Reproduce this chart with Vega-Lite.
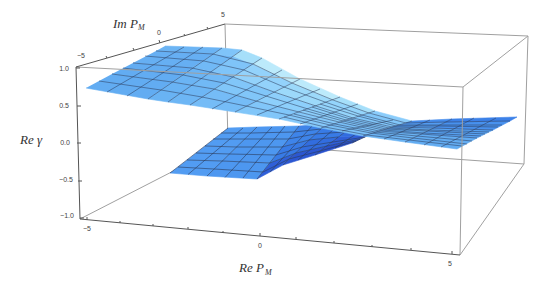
{"$schema":"https://vega.github.io/schema/vega-lite/v6.json","width":545,"height":283,"padding":0,"autosize":{"type":"none"},"background":"white","config":{"view":{"stroke":null}},
"datasets":{
"lowerV":[
{"k":"0_0","x":170,"y":173,"c":0.42},{"k":"1_0","x":207,"y":176,"c":0.4},{"k":"2_0","x":257,"y":179,"c":0.2},{"k":"3_0","x":283,"y":165,"c":0.15},{"k":"4_0","x":315,"y":155,"c":0.1},{"k":"5_0","x":352,"y":143,"c":0.1},
{"k":"0_1","x":187,"y":160,"c":0.42},{"k":"1_1","x":222,"y":161,"c":0.4},{"k":"2_1","x":270,"y":163,"c":0.3},{"k":"3_1","x":296,"y":153,"c":0.25},{"k":"4_1","x":327,"y":146,"c":0.2},{"k":"5_1","x":360,"y":139,"c":0.2},
{"k":"0_2","x":205,"y":146,"c":0.42},{"k":"1_2","x":237,"y":147,"c":0.4},{"k":"2_2","x":282,"y":147,"c":0.33},{"k":"3_2","x":309,"y":140,"c":0.3},{"k":"4_2","x":338,"y":137,"c":0.25},{"k":"5_2","x":369,"y":135,"c":0.25},
{"k":"0_3","x":228,"y":128,"c":0.42},{"k":"1_3","x":257,"y":127,"c":0.4},{"k":"2_3","x":299,"y":126,"c":0.33},{"k":"3_3","x":326,"y":124,"c":0.3},{"k":"4_3","x":354,"y":125,"c":0.25},{"k":"5_3","x":380,"y":130,"c":0.25}],
"upperV":[
{"k":"0_0","x":86,"y":88,"c":0.5},{"k":"1_0","x":148,"y":99,"c":0.54},{"k":"2_0","x":168,"y":102,"c":0.56},{"k":"3_0","x":190,"y":105,"c":0.6},{"k":"4_0","x":235,"y":112,"c":0.66},{"k":"5_0","x":279,"y":119,"c":0.68},{"k":"6_0","x":321,"y":128,"c":0.62},{"k":"7_0","x":363,"y":136,"c":0.55},{"k":"8_0","x":405,"y":142,"c":0.5},{"k":"9_0","x":457,"y":149,"c":0.5},
{"k":"0_1","x":112,"y":74,"c":0.5},{"k":"1_1","x":172,"y":82,"c":0.55},{"k":"2_1","x":192,"y":85,"c":0.58},{"k":"3_1","x":214,"y":89,"c":0.66},{"k":"4_1","x":256,"y":101,"c":0.72},{"k":"5_1","x":299,"y":112,"c":0.72},{"k":"6_1","x":339,"y":122,"c":0.65},{"k":"7_1","x":379,"y":131,"c":0.5},{"k":"8_1","x":421,"y":134,"c":0.45},{"k":"9_1","x":477,"y":138,"c":0.45},
{"k":"0_2","x":133,"y":63,"c":0.52},{"k":"1_2","x":192,"y":68,"c":0.58},{"k":"2_2","x":212,"y":71,"c":0.65},{"k":"3_2","x":233,"y":77,"c":0.75},{"k":"4_2","x":274,"y":92,"c":0.8},{"k":"5_2","x":316,"y":106,"c":0.76},{"k":"6_2","x":353,"y":118,"c":0.66},{"k":"7_2","x":392,"y":127,"c":0.42},{"k":"8_2","x":433,"y":128,"c":0.38},{"k":"9_2","x":493,"y":130,"c":0.38},
{"k":"0_3","x":156,"y":51,"c":0.55},{"k":"1_3","x":213,"y":54,"c":0.65},{"k":"2_3","x":233,"y":56,"c":0.85},{"k":"3_3","x":253,"y":64,"c":0.95},{"k":"4_3","x":292,"y":83,"c":0.95},{"k":"5_3","x":333,"y":100,"c":0.85},{"k":"6_3","x":369,"y":113,"c":0.7},{"k":"7_3","x":406,"y":123,"c":0.36},{"k":"8_3","x":446,"y":122,"c":0.32},{"k":"9_3","x":510,"y":121,"c":0.32},
{"k":"0_4","x":165,"y":46,"c":0.55},{"k":"1_4","x":222,"y":48,"c":0.65},{"k":"2_4","x":242,"y":50,"c":0.85},{"k":"3_4","x":262,"y":58,"c":0.95},{"k":"4_4","x":300,"y":79,"c":0.95},{"k":"5_4","x":340,"y":97,"c":0.85},{"k":"6_4","x":375,"y":111,"c":0.7},{"k":"7_4","x":412,"y":121,"c":0.36},{"k":"8_4","x":452,"y":119,"c":0.32},{"k":"9_4","x":517,"y":117,"c":0.32}],
"lowerL":[
{"g":"c0","x":170,"y":173},{"g":"c0","x":228,"y":128},{"g":"c1","x":188,"y":174.5},{"g":"c1","x":243,"y":128},{"g":"c2","x":207,"y":176},{"g":"c2","x":257,"y":127},{"g":"c3","x":225,"y":177.5},{"g":"c3","x":272,"y":127},{"g":"c4","x":243,"y":178},{"g":"c4","x":285,"y":126},{"g":"c5","x":257,"y":179},{"g":"c5","x":299,"y":126},{"g":"c6","x":270,"y":172},{"g":"c6","x":313,"y":125},{"g":"c7","x":283,"y":165},{"g":"c7","x":326,"y":124},{"g":"c8","x":298,"y":160},{"g":"c8","x":340,"y":124},{"g":"c9","x":315,"y":155},{"g":"c9","x":354,"y":125},{"g":"c10","x":335,"y":148},{"g":"c10","x":368,"y":126},{"g":"c11","x":352,"y":143},{"g":"c11","x":380,"y":130},
{"g":"r1","x":178,"y":167},{"g":"r1","x":214,"y":169},{"g":"r1","x":263,"y":172},{"g":"r1","x":289,"y":159},{"g":"r1","x":320,"y":151},{"g":"r1","x":356,"y":141},
{"g":"r2","x":187,"y":160},{"g":"r2","x":222,"y":161},{"g":"r2","x":270,"y":163},{"g":"r2","x":296,"y":153},{"g":"r2","x":327,"y":146},{"g":"r2","x":360,"y":139},
{"g":"r3","x":196,"y":153},{"g":"r3","x":230,"y":154},{"g":"r3","x":276,"y":155},{"g":"r3","x":302,"y":147},{"g":"r3","x":333,"y":142},{"g":"r3","x":365,"y":137},
{"g":"r4","x":205,"y":146},{"g":"r4","x":237,"y":147},{"g":"r4","x":282,"y":147},{"g":"r4","x":309,"y":140},{"g":"r4","x":338,"y":137},
{"g":"r5","x":213,"y":139},{"g":"r5","x":245,"y":139},{"g":"r5","x":288,"y":139},{"g":"r5","x":315,"y":134},{"g":"r5","x":344,"y":132},
{"g":"r6","x":221,"y":133},{"g":"r6","x":251,"y":133},{"g":"r6","x":294,"y":132},{"g":"r6","x":321,"y":129}],
"upperL":[
{"g":"i1","x":107,"y":92},{"g":"i1","x":184,"y":47},{"g":"i2","x":127,"y":96},{"g":"i2","x":203,"y":47},{"g":"i3","x":148,"y":99},{"g":"i3","x":222,"y":48},{"g":"i4","x":168,"y":102},{"g":"i4","x":242,"y":50},{"g":"i5","x":190,"y":105},{"g":"i5","x":262,"y":58},{"g":"i6","x":212,"y":109},{"g":"i6","x":282,"y":70},{"g":"i7","x":235,"y":112},{"g":"i7","x":300,"y":79},{"g":"i8","x":257,"y":115},{"g":"i8","x":320,"y":89},{"g":"i9","x":279,"y":119},{"g":"i9","x":340,"y":97},{"g":"i10","x":300,"y":124},{"g":"i10","x":358,"y":104},{"g":"i11","x":321,"y":128},{"g":"i11","x":375,"y":111},{"g":"i12","x":342,"y":131},{"g":"i12","x":393,"y":120},{"g":"i13","x":363,"y":136},{"g":"i13","x":412,"y":121},{"g":"i14","x":384,"y":139},{"g":"i14","x":430,"y":120},{"g":"i15","x":405,"y":142},{"g":"i15","x":452,"y":119},{"g":"i16","x":424,"y":145},{"g":"i16","x":474,"y":118},{"g":"i17","x":441,"y":147},{"g":"i17","x":496,"y":118},
{"g":"t17","x":99,"y":81},{"g":"t17","x":161,"y":90},{"g":"t17","x":202,"y":97},{"g":"t17","x":246,"y":106},{"g":"t17","x":289,"y":115},{"g":"t17","x":330,"y":125},{"g":"t17","x":371,"y":133},{"g":"t17","x":413,"y":138},{"g":"t17","x":467,"y":144},
{"g":"t33","x":112,"y":74},{"g":"t33","x":172,"y":82},{"g":"t33","x":214,"y":89},{"g":"t33","x":256,"y":101},{"g":"t33","x":299,"y":112},{"g":"t33","x":339,"y":122},{"g":"t33","x":379,"y":131},{"g":"t33","x":421,"y":134},{"g":"t33","x":477,"y":138},
{"g":"t47","x":123,"y":68},{"g":"t47","x":183,"y":75},{"g":"t47","x":224,"y":83},{"g":"t47","x":266,"y":96},{"g":"t47","x":308,"y":109},{"g":"t47","x":346,"y":120},{"g":"t47","x":386,"y":129},{"g":"t47","x":427,"y":131},{"g":"t47","x":485,"y":134},
{"g":"t60","x":133,"y":63},{"g":"t60","x":192,"y":68},{"g":"t60","x":233,"y":77},{"g":"t60","x":274,"y":92},{"g":"t60","x":316,"y":106},{"g":"t60","x":353,"y":118},{"g":"t60","x":392,"y":127},{"g":"t60","x":433,"y":128},{"g":"t60","x":493,"y":130},
{"g":"t75","x":145,"y":56},{"g":"t75","x":204,"y":61},{"g":"t75","x":244,"y":70},{"g":"t75","x":284,"y":87},{"g":"t75","x":325,"y":102},{"g":"t75","x":362,"y":115},{"g":"t75","x":400,"y":125},{"g":"t75","x":440,"y":125},{"g":"t75","x":502,"y":125},
{"g":"t88","x":156,"y":51},{"g":"t88","x":213,"y":54},{"g":"t88","x":253,"y":64},{"g":"t88","x":292,"y":83},{"g":"t88","x":333,"y":100},{"g":"t88","x":369,"y":113},{"g":"t88","x":406,"y":123},{"g":"t88","x":446,"y":122},{"g":"t88","x":510,"y":121},
{"g":"t08","x":284,"y":117},{"g":"t08","x":325,"y":127},{"g":"t08","x":367,"y":135},{"g":"t08","x":409,"y":140},{"g":"t08","x":462,"y":146},
{"g":"t25","x":294,"y":114},{"g":"t25","x":335,"y":124},{"g":"t25","x":375,"y":132},{"g":"t25","x":417,"y":136},{"g":"t25","x":472,"y":141},
{"g":"t40","x":303,"y":110},{"g":"t40","x":343,"y":121},{"g":"t40","x":383,"y":130},{"g":"t40","x":424,"y":133},{"g":"t40","x":481,"y":136},
{"g":"t54","x":312,"y":107},{"g":"t54","x":350,"y":119},{"g":"t54","x":389,"y":128},{"g":"t54","x":430,"y":130},{"g":"t54","x":489,"y":132},
{"g":"t68","x":320,"y":104},{"g":"t68","x":358,"y":116},{"g":"t68","x":396,"y":126},{"g":"t68","x":437,"y":126},{"g":"t68","x":498,"y":127}],
"back":[
{"g":"bc","x":225,"y":24},{"g":"bc","x":528,"y":36},{"g":"bg","x":225,"y":24},{"g":"bg","x":228,"y":143},{"g":"eg","x":80,"y":219},{"g":"eg","x":228,"y":143},{"g":"gi","x":228,"y":143},{"g":"gi","x":524,"y":164},{"g":"ci","x":528,"y":36},{"g":"ci","x":524,"y":164}],
"front":[
{"g":"ad","x":76,"y":67},{"g":"ad","x":463,"y":87},{"g":"dc","x":463,"y":87},{"g":"dc","x":528,"y":36},{"g":"dh","x":463,"y":87},{"g":"dh","x":460,"y":255},{"g":"hi","x":460,"y":255},{"g":"hi","x":524,"y":164}],
"axes":[
{"g":"ab","x":76,"y":67},{"g":"ab","x":225,"y":24},{"g":"ae","x":76,"y":67},{"g":"ae","x":80,"y":219},{"g":"eh","x":80,"y":219},{"g":"eh","x":460,"y":255},
{"g":"l1","x":76,"y":68},{"g":"l1","x":80,"y":68},{"g":"l2","x":77,"y":106},{"g":"l2","x":81,"y":106},{"g":"l3","x":77,"y":143},{"g":"l3","x":81,"y":143},{"g":"l4","x":78,"y":181},{"g":"l4","x":82,"y":181},{"g":"l5","x":80,"y":218},{"g":"l5","x":84,"y":218},
{"g":"m1","x":87,"y":220},{"g":"m1","x":87,"y":217},{"g":"m2","x":120,"y":223},{"g":"m2","x":120,"y":221},{"g":"m3","x":153,"y":226},{"g":"m3","x":153,"y":224},{"g":"m4","x":188,"y":229},{"g":"m4","x":188,"y":227},{"g":"m5","x":223,"y":233},{"g":"m5","x":223,"y":231},{"g":"m6","x":260,"y":236},{"g":"m6","x":260,"y":233},{"g":"m7","x":296,"y":239},{"g":"m7","x":296,"y":237},{"g":"m8","x":334,"y":243},{"g":"m8","x":334,"y":241},{"g":"m9","x":372,"y":247},{"g":"m9","x":372,"y":245},{"g":"m10","x":411,"y":250},{"g":"m10","x":411,"y":248},{"g":"m11","x":452,"y":254},{"g":"m11","x":452,"y":251},
{"g":"n1","x":107,"y":58},{"g":"n1","x":106,"y":56},{"g":"n2","x":134,"y":50},{"g":"n2","x":133,"y":48},{"g":"n3","x":160,"y":43},{"g":"n3","x":159,"y":40},{"g":"n4","x":185,"y":36},{"g":"n4","x":184,"y":34},{"g":"n5","x":208,"y":29},{"g":"n5","x":207,"y":27}],
"tickText":[
{"t":"−5","x":81,"y":56},{"t":"0","x":159,"y":33},{"t":"5","x":223,"y":15},
{"t":"1.0","x":64,"y":69},{"t":"0.5","x":64,"y":106},{"t":"0.0","x":65,"y":143},{"t":"−0.5","x":66,"y":180},{"t":"−1.0","x":67,"y":216},
{"t":"−5","x":87,"y":229},{"t":"0","x":260,"y":246},{"t":"5","x":450,"y":264}],
"titles":[{"t":"Im P","x":113,"y":24},{"t":"Re γ","x":20,"y":140},{"t":"Re P","x":239,"y":268}],
"subs":[{"t":"M","x":138,"y":28},{"t":"M","x":265,"y":273}]
},
"layer":[
{"data":{"name":"back"},"mark":{"type":"line","stroke":"#a0a0a0","strokeWidth":1},"encoding":{"x":{"field":"x","type":"quantitative","scale":{"domain":[0,545],"nice":false,"zero":false},"axis":null},"y":{"field":"y","type":"quantitative","scale":{"domain":[283,0],"nice":false,"zero":false},"axis":null},"detail":{"field":"g"}}},
{"data":{"name":"lowerV"},"transform":[
{"calculate":"toNumber(split(datum.k,'_')[0])","as":"i"},{"calculate":"toNumber(split(datum.k,'_')[1])","as":"j"},
{"filter":"datum.i<5&&datum.j<3"},
{"calculate":"[0,1,2,3]","as":"n"},{"flatten":["n"]},
{"calculate":"(datum.i+(datum.n==1||datum.n==2?1:0))+'_'+(datum.j+(datum.n>=2?1:0))","as":"key"},
{"lookup":"key","from":{"data":{"name":"lowerV"},"key":"k","fields":["x","y"]},"as":["vx","vy"]}],
"mark":{"type":"line","filled":true,"strokeWidth":0.6},
"encoding":{"x":{"field":"vx","type":"quantitative","scale":{"domain":[0,545],"nice":false,"zero":false},"axis":null},"y":{"field":"vy","type":"quantitative","scale":{"domain":[283,0],"nice":false,"zero":false},"axis":null},"detail":{"field":"k"},"order":{"field":"n"},
"fill":{"field":"c","type":"quantitative","legend":null,"scale":{"domain":[0,0.2,0.42,0.5,0.7,1],"range":["#2340c0","#2f5fd8","#529cf2","#62acf2","#8accfb","#c8f0fc"]}},
"stroke":{"field":"c","type":"quantitative","legend":null,"scale":{"domain":[0,0.2,0.42,0.5,0.7,1],"range":["#2340c0","#2f5fd8","#529cf2","#62acf2","#8accfb","#c8f0fc"]}}}},
{"data":{"name":"lowerL"},"mark":{"type":"line","stroke":"#2a3a5a","strokeWidth":0.7,"opacity":0.85},"encoding":{"x":{"field":"x","type":"quantitative","scale":{"domain":[0,545],"nice":false,"zero":false},"axis":null},"y":{"field":"y","type":"quantitative","scale":{"domain":[283,0],"nice":false,"zero":false},"axis":null},"detail":{"field":"g"}}},
{"data":{"name":"upperV"},"transform":[
{"calculate":"toNumber(split(datum.k,'_')[0])","as":"i"},{"calculate":"toNumber(split(datum.k,'_')[1])","as":"j"},
{"filter":"datum.i<9&&datum.j<4"},
{"calculate":"[0,1,2,3]","as":"n"},{"flatten":["n"]},
{"calculate":"(datum.i+(datum.n==1||datum.n==2?1:0))+'_'+(datum.j+(datum.n>=2?1:0))","as":"key"},
{"lookup":"key","from":{"data":{"name":"upperV"},"key":"k","fields":["x","y"]},"as":["vx","vy"]}],
"mark":{"type":"line","filled":true,"strokeWidth":0.6},
"encoding":{"x":{"field":"vx","type":"quantitative","scale":{"domain":[0,545],"nice":false,"zero":false},"axis":null},"y":{"field":"vy","type":"quantitative","scale":{"domain":[283,0],"nice":false,"zero":false},"axis":null},"detail":{"field":"k"},"order":{"field":"n"},
"fill":{"field":"c","type":"quantitative","legend":null,"scale":{"domain":[0,0.2,0.42,0.5,0.7,1],"range":["#2340c0","#2f5fd8","#529cf2","#62acf2","#8accfb","#c8f0fc"]}},
"stroke":{"field":"c","type":"quantitative","legend":null,"scale":{"domain":[0,0.2,0.42,0.5,0.7,1],"range":["#2340c0","#2f5fd8","#529cf2","#62acf2","#8accfb","#c8f0fc"]}}}},
{"data":{"name":"upperL"},"mark":{"type":"line","stroke":"#2a3a5a","strokeWidth":0.7,"opacity":0.75},"encoding":{"x":{"field":"x","type":"quantitative","scale":{"domain":[0,545],"nice":false,"zero":false},"axis":null},"y":{"field":"y","type":"quantitative","scale":{"domain":[283,0],"nice":false,"zero":false},"axis":null},"detail":{"field":"g"}}},
{"data":{"name":"front"},"mark":{"type":"line","stroke":"#a0a0a0","strokeWidth":1},"encoding":{"x":{"field":"x","type":"quantitative","scale":{"domain":[0,545],"nice":false,"zero":false},"axis":null},"y":{"field":"y","type":"quantitative","scale":{"domain":[283,0],"nice":false,"zero":false},"axis":null},"detail":{"field":"g"}}},
{"data":{"name":"axes"},"mark":{"type":"line","stroke":"#555555","strokeWidth":1},"encoding":{"x":{"field":"x","type":"quantitative","scale":{"domain":[0,545],"nice":false,"zero":false},"axis":null},"y":{"field":"y","type":"quantitative","scale":{"domain":[283,0],"nice":false,"zero":false},"axis":null},"detail":{"field":"g"}}},
{"data":{"name":"tickText"},"mark":{"type":"text","font":"Liberation Sans","fontSize":7,"fill":"#444444"},"encoding":{"x":{"field":"x","type":"quantitative","scale":{"domain":[0,545],"nice":false,"zero":false},"axis":null},"y":{"field":"y","type":"quantitative","scale":{"domain":[283,0],"nice":false,"zero":false},"axis":null},"text":{"field":"t"}}},
{"data":{"name":"titles"},"mark":{"type":"text","font":"Liberation Serif","fontStyle":"italic","fontSize":13,"align":"left","fill":"#333333"},"encoding":{"x":{"field":"x","type":"quantitative","scale":{"domain":[0,545],"nice":false,"zero":false},"axis":null},"y":{"field":"y","type":"quantitative","scale":{"domain":[283,0],"nice":false,"zero":false},"axis":null},"text":{"field":"t"}}},
{"data":{"name":"subs"},"mark":{"type":"text","font":"Liberation Serif","fontStyle":"italic","fontSize":8,"align":"left","fill":"#333333"},"encoding":{"x":{"field":"x","type":"quantitative","scale":{"domain":[0,545],"nice":false,"zero":false},"axis":null},"y":{"field":"y","type":"quantitative","scale":{"domain":[283,0],"nice":false,"zero":false},"axis":null},"text":{"field":"t"}}}
]}
